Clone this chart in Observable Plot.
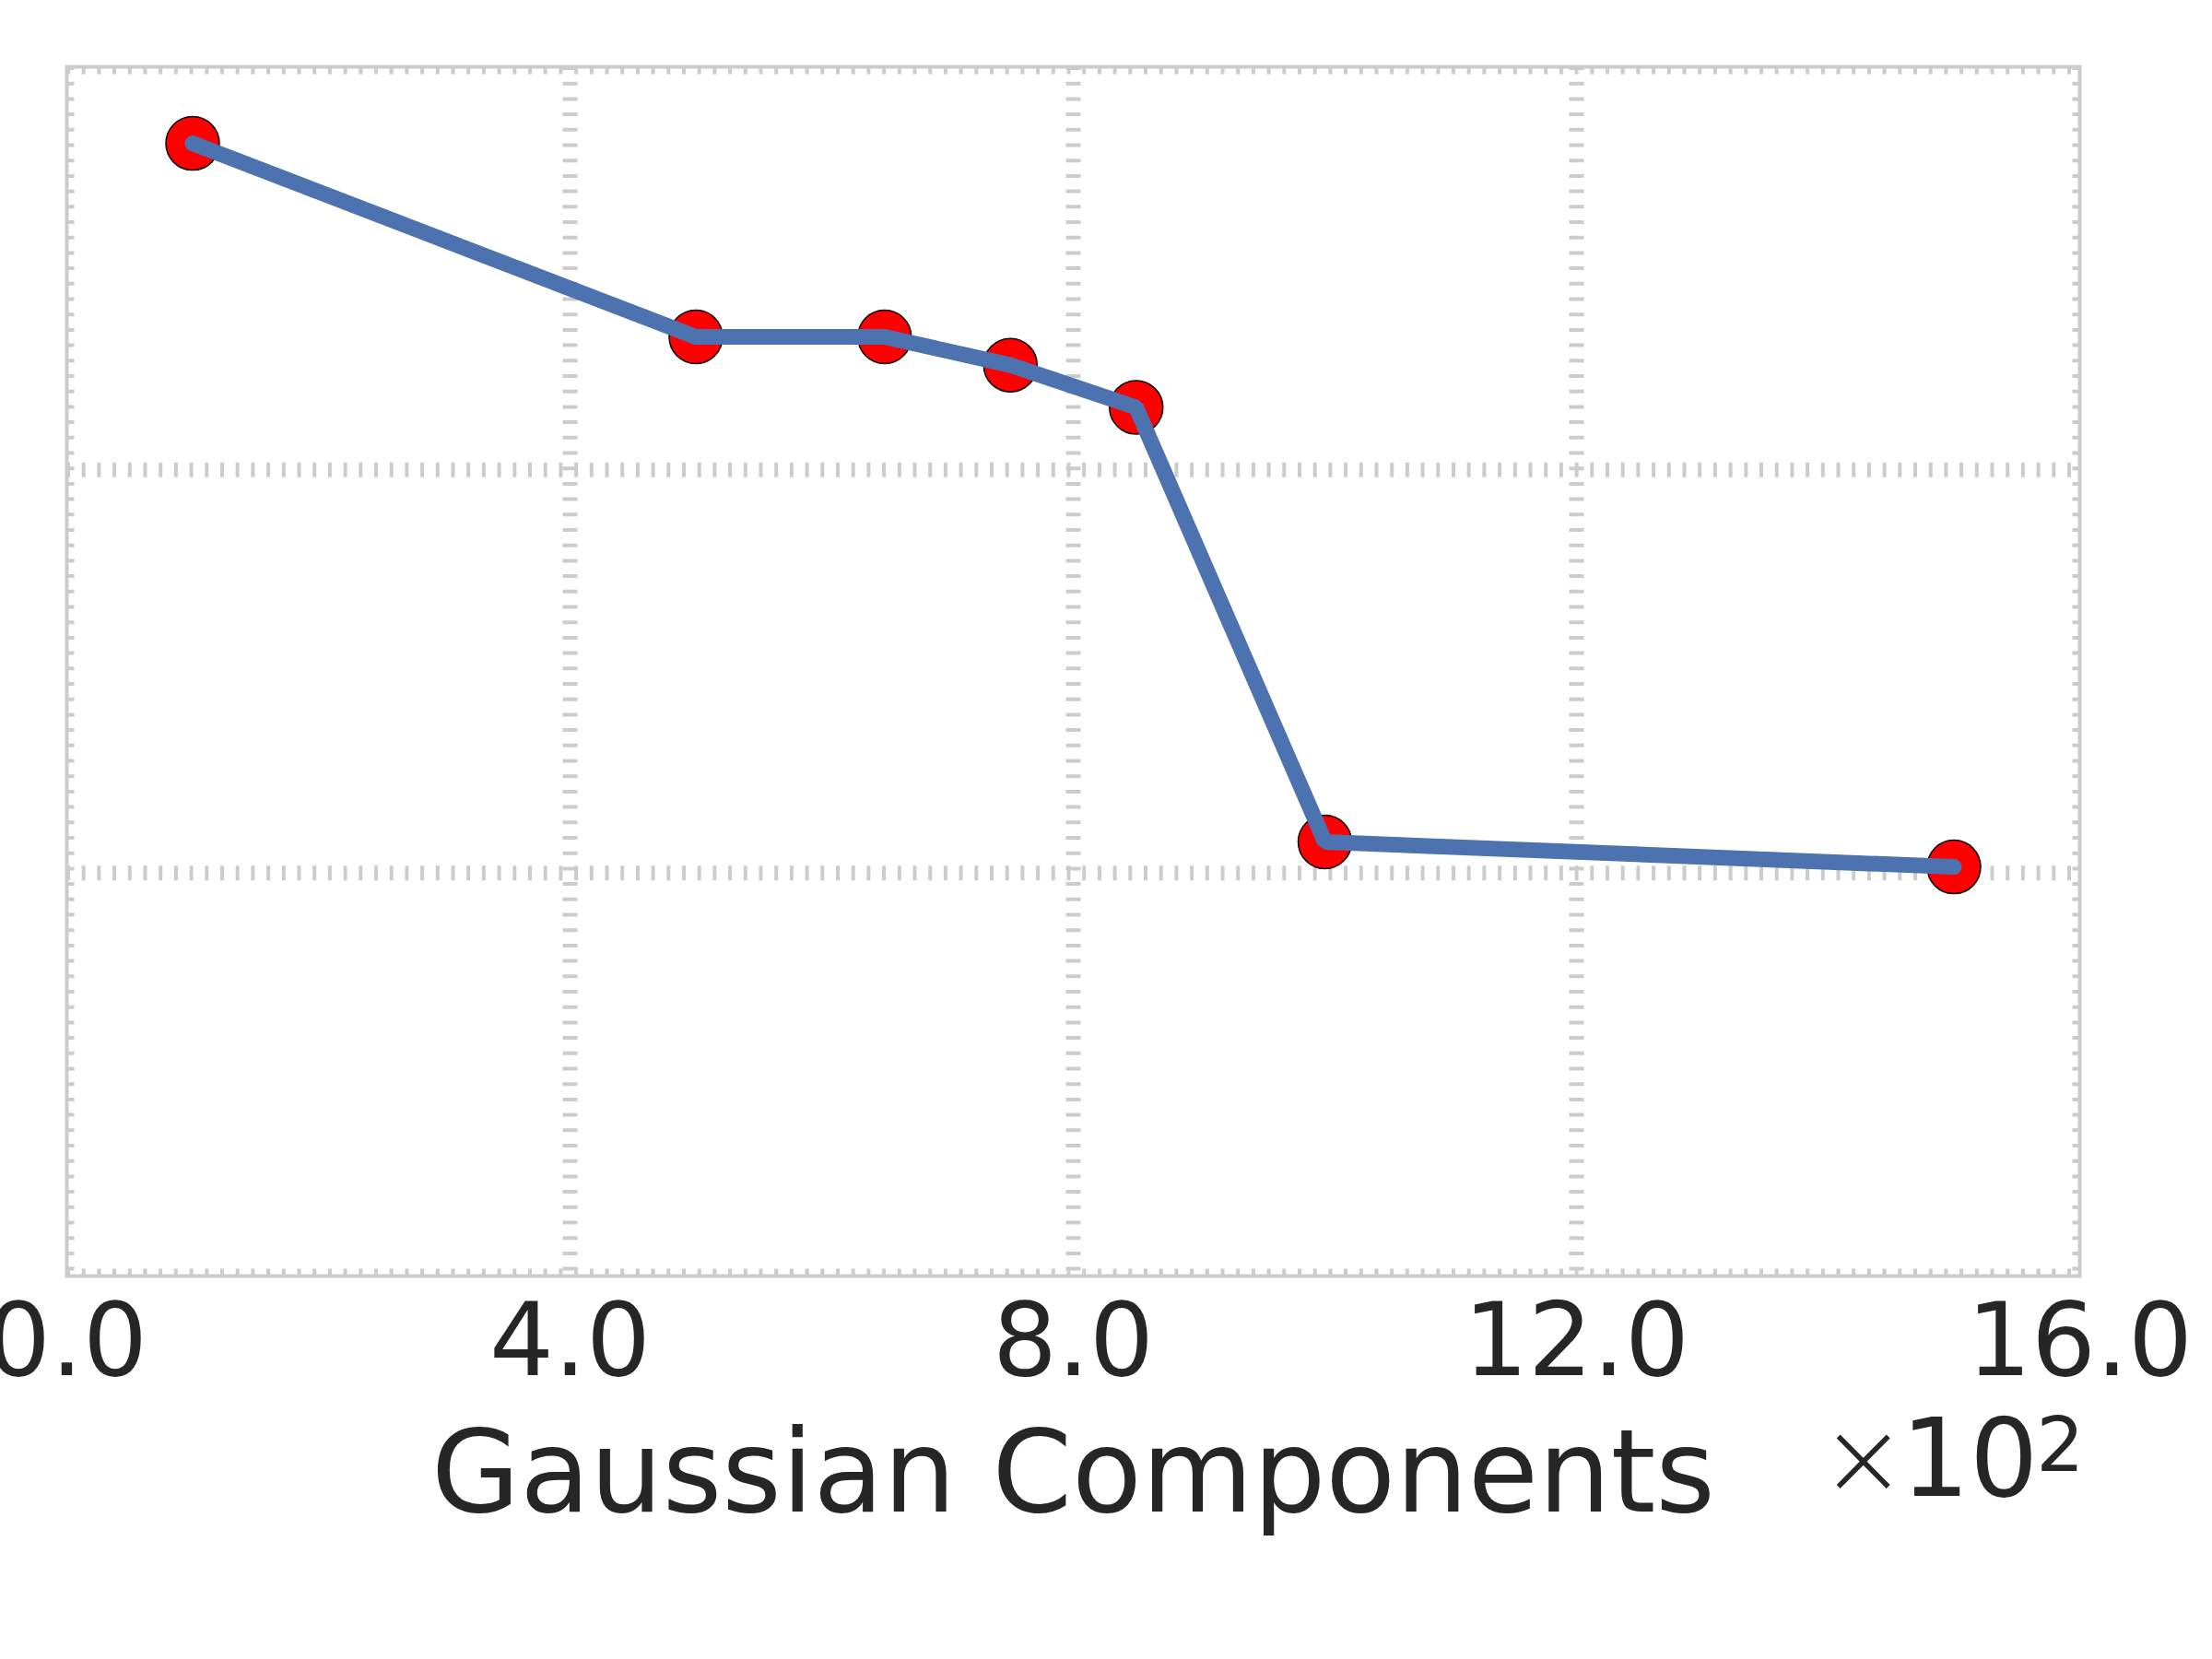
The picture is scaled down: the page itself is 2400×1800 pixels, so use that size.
<!DOCTYPE html>
<html>
<head>
<meta charset="utf-8">
<script src="https://cdn.jsdelivr.net/npm/d3@7"></script>
<script src="https://cdn.jsdelivr.net/npm/@observablehq/plot@0.6"></script>
<style>
  html, body { margin: 0; padding: 0; background: #ffffff; }
  #chart svg { display: block; }
</style>
</head>
<body>
<div id="chart"></div>
<script>
// Data (x in units of 10^2 Gaussian components; y unlabelled)
const components = [1.0, 5.0, 6.5, 7.5, 8.5, 10.0, 15.0];
const values = [2.81, 2.33, 2.33, 2.26, 2.155, 1.077, 1.015];
const xTicks = [0, 4, 8, 12, 16];
const yGrid = [0, 1, 2, 3];
const xLabel = "Gaussian Components";

const data = components.map((c, i) => ({x: c, y: values[i]}));

const gridColor = "#cccccc";
const textColor = "#262626";

const chart = Plot.plot({
  width: 2400,
  height: 1800,
  marginLeft: 72,
  marginRight: 144,
  marginTop: 72,
  marginBottom: 416,
  style: {fontFamily: "DejaVu Sans", color: textColor, background: "#ffffff", overflow: "visible"},
  x: {domain: [0, 16]},
  y: {domain: [0, 3], axis: null},
  marks: [
    Plot.ruleX(xTicks, {stroke: gridColor, strokeWidth: 16, strokeDasharray: "4,12.7", clip: true}),
    Plot.ruleY(yGrid, {stroke: gridColor, strokeWidth: 16, strokeDasharray: "4,12.7", clip: true}),
    Plot.frame({stroke: gridColor, strokeWidth: 4}),
    Plot.axisX({ticks: xTicks, tickFormat: d3.format(".1f"), tickSize: 0, tickPadding: 29, fontSize: 110, label: null, fill: textColor}),
    Plot.dot(data, {x: "x", y: "y", r: 29, fill: "#ff0000", stroke: "#000000", strokeWidth: 1.5}),
    Plot.line(data, {x: "x", y: "y", stroke: "#4C72B0", strokeWidth: 17, strokeLinecap: "round", strokeLinejoin: "miter"}),
    Plot.text([xLabel], {frameAnchor: "bottom", lineAnchor: "bottom", dy: 255, fontSize: 124, fill: textColor}),
    Plot.text(["×"], {frameAnchor: "bottom-right", textAnchor: "end", lineAnchor: "bottom", dx: -188, dy: 236, fontSize: 112, fontWeight: 200, fill: textColor}),
    Plot.text(["10"], {frameAnchor: "bottom-right", textAnchor: "end", lineAnchor: "bottom", dx: -45, dy: 238, fontSize: 117, fill: textColor}),
    Plot.text(["2"], {frameAnchor: "bottom-right", textAnchor: "end", lineAnchor: "bottom", dx: 5, dy: 211, fontSize: 82, fill: textColor})
  ]
});
document.getElementById("chart").appendChild(chart);
</script>
</body>
</html>
